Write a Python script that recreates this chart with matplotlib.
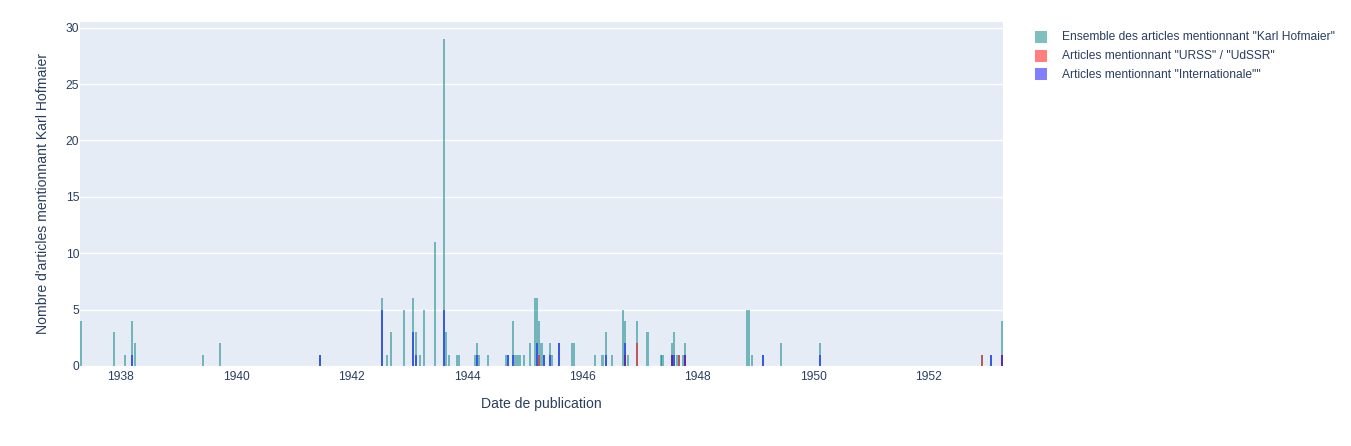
import matplotlib.pyplot as plt
from matplotlib.patches import Rectangle

# bins are 14 days wide, positions are the left edge of each bin in decimal years
bin_width = 14 / 365.25

all_years = [1937.29, 1937.86, 1938.05, 1938.17, 1938.22, 1939.40, 1939.70, 1941.43,
             1942.51, 1942.59, 1942.66, 1942.89, 1943.04, 1943.09, 1943.16, 1943.23,
             1943.42, 1943.58, 1943.62, 1943.67, 1943.80, 1943.84, 1944.12, 1944.15,
             1944.19, 1944.34, 1944.65, 1944.69, 1944.78, 1944.82, 1944.86, 1944.90,
             1944.97, 1945.07, 1945.16, 1945.19, 1945.23, 1945.27, 1945.31, 1945.42,
             1945.45, 1945.57, 1945.80, 1945.84, 1946.20, 1946.33, 1946.39, 1946.49,
             1946.68, 1946.72, 1946.77, 1946.92, 1947.11, 1947.34, 1947.37, 1947.53,
             1947.57, 1947.62, 1947.65, 1947.72, 1947.76, 1948.83, 1948.87, 1948.92,
             1949.11, 1949.42, 1950.10, 1952.90, 1953.06, 1953.25]
all_counts = [4, 3, 1, 4, 2, 1, 2, 1,
              6, 1, 3, 5, 6, 3, 1, 5,
              11, 29, 3, 1, 1, 1, 1, 2,
              1, 1, 1, 1, 4, 1, 1, 1,
              1, 2, 6, 6, 4, 2, 1, 2,
              1, 2, 2, 2, 1, 1, 3, 1,
              5, 4, 1, 4, 3, 1, 1, 2,
              3, 1, 1, 1, 2, 5, 5, 1,
              1, 2, 2, 1, 1, 4]

urss_years = [1945.23, 1946.72, 1946.92, 1947.53, 1947.65, 1947.76, 1952.90, 1953.25]
urss_counts = [1, 1, 2, 1, 1, 1, 1, 1]

inter_years = [1938.17, 1941.43, 1942.51, 1943.04, 1943.09, 1943.58, 1944.15, 1944.69,
               1944.78, 1945.19, 1945.31, 1945.42, 1945.57, 1946.39, 1946.72, 1947.53,
               1947.57, 1947.76, 1949.11, 1950.10, 1953.06, 1953.25]
inter_counts = [1, 1, 5, 3, 1, 5, 1, 1,
                1, 2, 1, 1, 2, 1, 2, 1,
                1, 1, 1, 1, 1, 1]

series = [
    ('Ensemble des articles mentionnant "Karl Hofmaier"', all_years, all_counts, '#008080'),
    ('Articles mentionnant "URSS" / "UdSSR"', urss_years, urss_counts, '#ff0000'),
    ('Articles mentionnant "Internationale""', inter_years, inter_counts, '#0000ff'),
]

plt.rcParams['font.family'] = ['Liberation Sans', 'DejaVu Sans']
text_color = '#2a3f5f'
small = 12 * 72 / 100   # plotly 12px
big = 14 * 72 / 100     # plotly 14px

W, H = 1351, 446
fig = plt.figure(figsize=(W / 100, H / 100), dpi=100)
ax = fig.add_axes([80 / W, 1 - 366 / H, 923 / W, 344 / H])
ax.set_facecolor('#e5ecf6')

for name, years, counts, color in series:
    ax.bar(years, counts, width=bin_width, align='edge', color=color, alpha=0.5,
           linewidth=0, label=name)

ax.set_xlim(1937.29, 1953.29)
ax.set_ylim(0, 30.5)
ax.set_yticks(range(0, 31, 5))
ax.set_xticks(range(1938, 1953, 2))
ax.set_xticklabels([str(y) for y in range(1938, 1953, 2)])
ax.grid(axis='y', color='white', linewidth=1)
ax.set_axisbelow(True)
for s in ax.spines.values():
    s.set_visible(False)
ax.tick_params(length=0, labelsize=small, labelcolor=text_color)
ax.tick_params(axis='y', pad=0.5)
ax.tick_params(axis='x', pad=3.5)

ax.set_xlabel('Date de publication', fontsize=big, color=text_color, labelpad=10.5)
ax.set_ylabel("Nombre d'articles mentionnant Karl Hofmaier", fontsize=big,
              color=text_color, labelpad=11.5)

# legend drawn by hand to match the plotly layout
row_y = [37, 55.5, 74]
for (name, years, counts, color), y in zip(series, row_y):
    fig.add_artist(Rectangle((1035 / W, 1 - (y + 6) / H), 12 / W, 12 / H,
                             transform=fig.transFigure, facecolor=color,
                             alpha=0.5, linewidth=0))
    fig.text(1062 / W, 1 - (y + 0.5) / H, name, fontsize=small, color=text_color,
             va='center', ha='left')

fig.savefig('out.png', dpi=100, facecolor='white')
